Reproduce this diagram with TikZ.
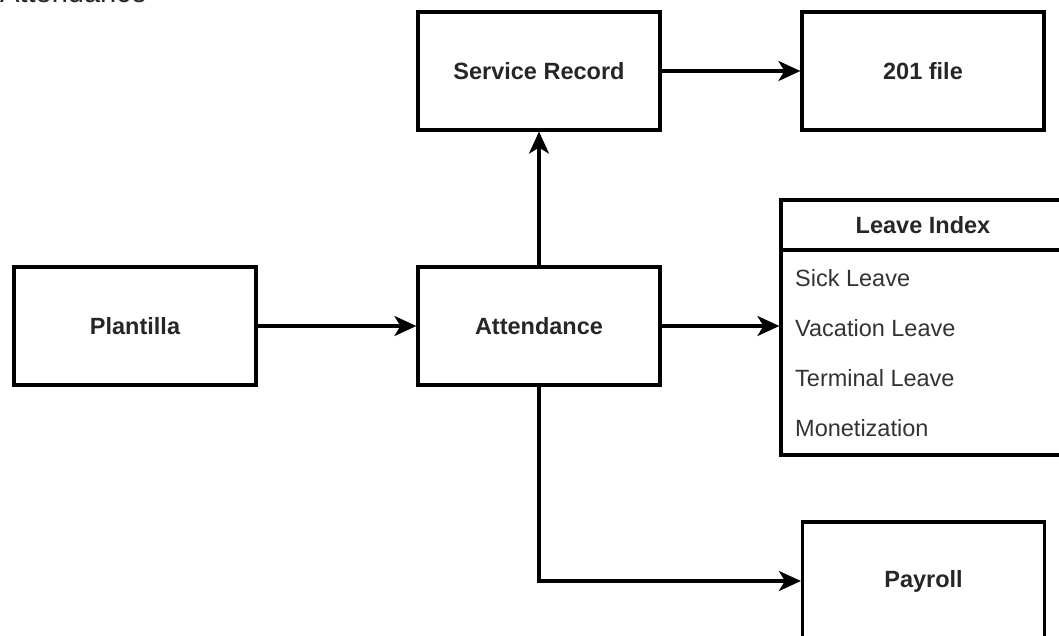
\documentclass[tikz,border=0pt]{standalone}
\usepackage{fontspec}
\setmainfont{Liberation Sans}
\usetikzlibrary{arrows.meta}
\tikzset{
  box/.style={draw=black, line width=3.2pt, minimum width=242pt, minimum height=118pt, inner sep=0pt,
    font=\fontsize{23.5}{28}\selectfont\bfseries, text=black!85},
  item/.style={anchor=west, inner sep=0pt, font=\fontsize{23.5}{28}\selectfont, text=black!80},
  conn/.style={line width=3.2pt, -{Stealth[length=22pt,width=20pt,inset=6pt]}}
}
\begin{document}
\begin{tikzpicture}[x=1pt,y=-1pt]
\useasboundingbox (0,0) rectangle (1059,636);
\clip (0,0) rectangle (1059,636);
% title (cut at top)
\node[anchor=base west, inner sep=0pt, font=\fontsize{29}{34}\selectfont, text=black!85] (title) at (0,3) {Attendance};
% boxes
\node[box] (sr) at (539,71) {Service Record};
\node[box] (file) at (923,71) {201 file};
\node[box] (pl) at (135,326) {Plantilla};
\node[box] (att) at (539,326) {Attendance};
\node[box] (pay) at (923.5,581) {Payroll};
% leave index
\node[draw=black, line width=3.2pt, minimum width=284pt, minimum height=50pt, inner sep=0pt,
  font=\fontsize{23.5}{28}\selectfont\bfseries, text=black!85] (lih) at (923,225) {Leave Index};
\node[draw=black, line width=3.2pt, minimum width=284pt, minimum height=205pt, inner sep=0pt] (lib) at (923,352.5) {};
\node[item] (i1) at (795,278) {Sick Leave};
\node[item] (i2) at (795,328) {Vacation Leave};
\node[item] (i3) at (795,378) {Terminal Leave};
\node[item] (i4) at (795,428) {Monetization};
% connectors
\draw[conn] (pl.east) -- (att.west);
\draw[conn] (att.north) -- (sr.south);
\draw[conn] (sr.east) -- (file.west);
\draw[conn] (att.east) -- (att.east -| lib.west);
\draw[conn] (att.south) |- (pay.west);
\end{tikzpicture}
\end{document}
